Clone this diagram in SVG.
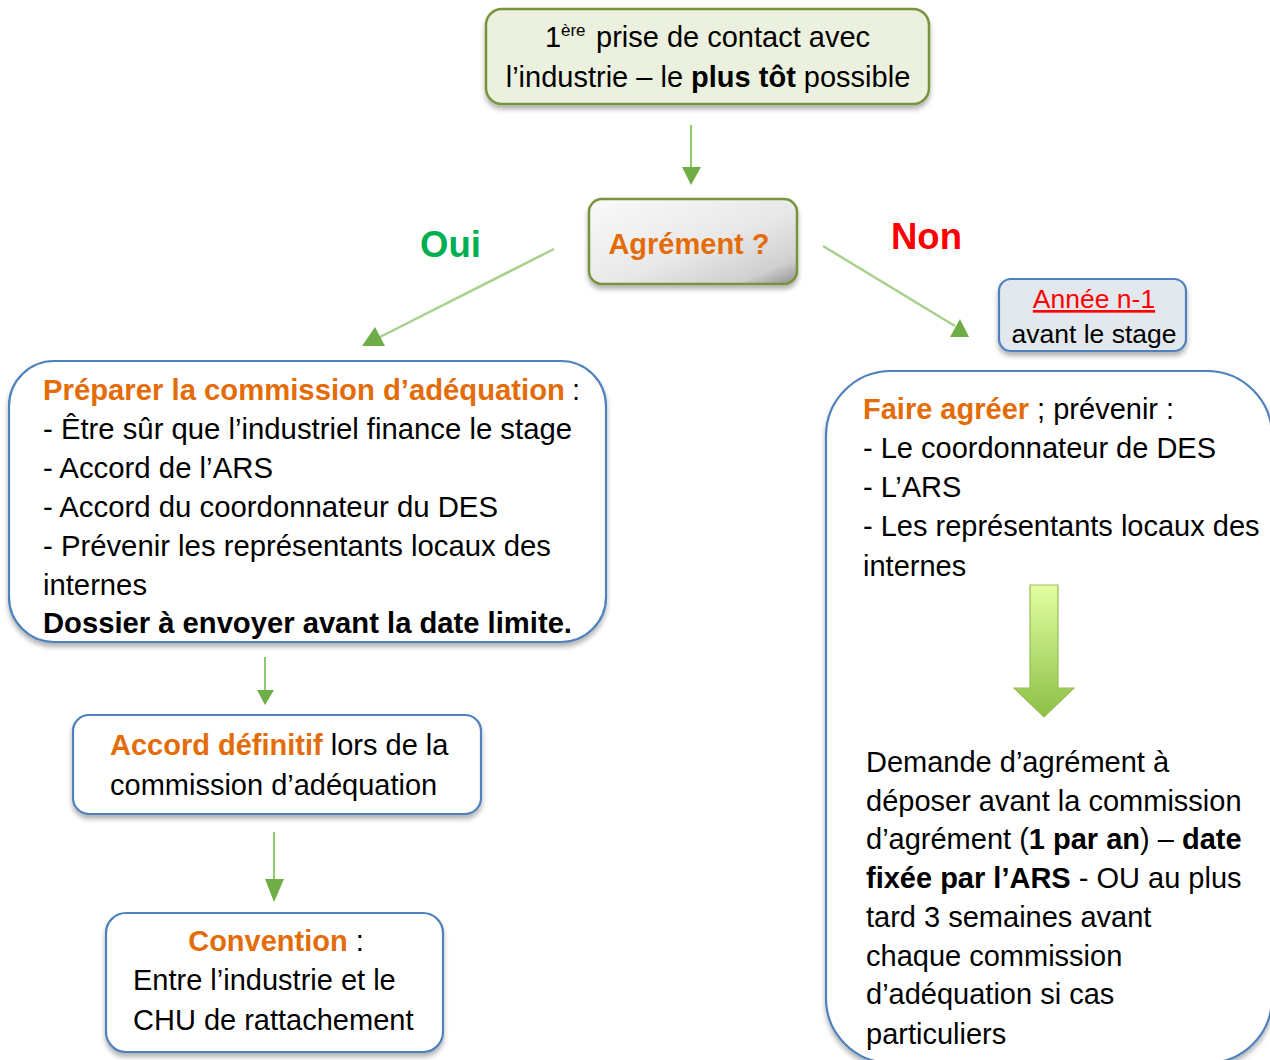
<svg xmlns="http://www.w3.org/2000/svg" width="1270" height="1060" viewBox="0 0 1270 1060">
<defs>
<style>
text{font-family:"Liberation Sans",Arial,sans-serif;font-size:29px;fill:#000}
.b{font-weight:bold}
.or{fill:#e36c09;font-weight:bold}
.bl{fill:#fff;stroke:#4f81bd;stroke-width:2.2}
.ln{stroke:#a9d18e;stroke-width:2.5;fill:none}
.lv{stroke:#8ec86c;stroke-width:2;fill:none}
.hd{fill:#70ad47}
</style>
<filter id="sh" x="-10%" y="-10%" width="120%" height="130%">
<feDropShadow dx="0" dy="4" stdDeviation="2.5" flood-color="#000" flood-opacity="0.3"/>
</filter>
<linearGradient id="gg" x1="0" y1="0" x2="1" y2="1">
<stop offset="0" stop-color="#fafafa"/>
<stop offset="0.55" stop-color="#e8e8e8"/>
<stop offset="0.85" stop-color="#cfcfcf"/>
<stop offset="1" stop-color="#8f8f8f"/>
</linearGradient>
<linearGradient id="ga" x1="0" y1="0" x2="0" y2="1">
<stop offset="0" stop-color="#e2ffa2"/>
<stop offset="1" stop-color="#8dbf46"/>
</linearGradient>
</defs>

<g id="connectors">
<line class="lv" x1="691" y1="125" x2="691" y2="170"/>
<polygon class="hd" points="682,167 701,167 691,185"/>
<line class="ln" x1="554" y1="249" x2="378" y2="338"/>
<polygon class="hd" points="362,346 385,346 375,327"/>
<line class="ln" x1="823" y1="246" x2="955" y2="326"/>
<polygon class="hd" points="950,337 969,337 960,319"/>
<line class="lv" x1="265" y1="657" x2="265" y2="692"/>
<polygon class="hd" points="257,690 274,690 265,705"/>
<line class="lv" x1="274" y1="832" x2="274" y2="882"/>
<polygon class="hd" points="265,879 284,879 274,902"/>
</g>

<g id="labels">
<text class="b" x="420" y="257" style="font-size:36.5px;fill:#00b050">Oui</text>
<text class="b" x="891" y="249" style="font-size:36.5px;fill:#ff0000">Non</text>
</g>

<g id="node-contact">
<rect x="486" y="9" width="443" height="95" rx="16" fill="#ebf1de" stroke="#77933c" stroke-width="2.5" filter="url(#sh)"/>
<text x="545" y="47">1</text>
<text x="561" y="36" style="font-size:17px">ère</text>
<text x="596" y="47">prise de contact avec</text>
<text x="708" y="87" text-anchor="middle">l’industrie – le <tspan class="b">plus tôt</tspan> possible</text>
</g>

<g id="node-agrement">
<rect x="589" y="199" width="208" height="85" rx="13" fill="url(#gg)" stroke="#77933c" stroke-width="2.5" filter="url(#sh)"/>
<text class="or" x="689" y="254" text-anchor="middle">Agrément ?</text>
</g>

<g id="node-annee">
<rect x="999" y="279" width="187" height="72" rx="12" fill="#e2e8ee" stroke="#4f81bd" stroke-width="2.2" filter="url(#sh)"/>
<text x="1094" y="308" text-anchor="middle" style="font-size:26.5px;fill:#ff0000;text-decoration:underline">Année n-1</text>
<text x="1094" y="343" text-anchor="middle" style="font-size:26.5px">avant le stage</text>
</g>

<g id="node-preparer">
<rect class="bl" x="9" y="361" width="597" height="281" rx="45" filter="url(#sh)"/>
<text class="or" x="43" y="400" textLength="522" lengthAdjust="spacingAndGlyphs">Préparer la commission d’adéquation</text>
<text x="572" y="400">:</text>
<text x="43" y="439" textLength="529" lengthAdjust="spacingAndGlyphs">- Être sûr que l’industriel finance le stage</text>
<text x="43" y="478" textLength="230" lengthAdjust="spacingAndGlyphs">- Accord de l’ARS</text>
<text x="43" y="517" textLength="455" lengthAdjust="spacingAndGlyphs">- Accord du coordonnateur du DES</text>
<text x="43" y="556" textLength="508" lengthAdjust="spacingAndGlyphs">- Prévenir les représentants locaux des</text>
<text x="43" y="595" textLength="104" lengthAdjust="spacingAndGlyphs">internes</text>
<text class="b" x="43" y="633" textLength="529" lengthAdjust="spacingAndGlyphs">Dossier à envoyer avant la date limite.</text>
</g>

<g id="node-accord">
<rect class="bl" x="73" y="715" width="408" height="99" rx="16" filter="url(#sh)"/>
<text x="110" y="755"><tspan class="or">Accord définitif</tspan> lors de la</text>
<text x="110" y="795">commission d’adéquation</text>
</g>

<g id="node-convention">
<rect class="bl" x="106" y="913" width="337" height="139" rx="20" filter="url(#sh)"/>
<text x="276" y="951" text-anchor="middle"><tspan class="or">Convention</tspan> :</text>
<text x="133" y="990">Entre l’industrie et le</text>
<text x="133" y="1030">CHU de rattachement</text>
</g>

<g id="node-faire">
<rect class="bl" x="826" y="371" width="446" height="692" rx="65" filter="url(#sh)"/>
<text x="863" y="419"><tspan class="or">Faire agréer</tspan> ; prévenir :</text>
<text x="863" y="458">- Le coordonnateur de DES</text>
<text x="863" y="497">- L’ARS</text>
<text x="863" y="536">- Les représentants locaux des</text>
<text x="863" y="576">internes</text>
<path d="M1030,585 H1058 V688 H1074 L1044,717 L1014,688 H1030 Z" fill="url(#ga)" stroke="#9bbb59" stroke-width="1.2"/>
<text x="866" y="772">Demande d’agrément à</text>
<text x="866" y="811">déposer avant la commission</text>
<text x="866" y="849">d’agrément (<tspan class="b">1 par an</tspan>) – <tspan class="b">date</tspan></text>
<text x="866" y="888"><tspan class="b">fixée par l’ARS</tspan> - OU au plus</text>
<text x="866" y="927">tard 3 semaines avant</text>
<text x="866" y="966">chaque commission</text>
<text x="866" y="1004">d’adéquation si cas</text>
<text x="866" y="1044">particuliers</text>
</g>
</svg>
